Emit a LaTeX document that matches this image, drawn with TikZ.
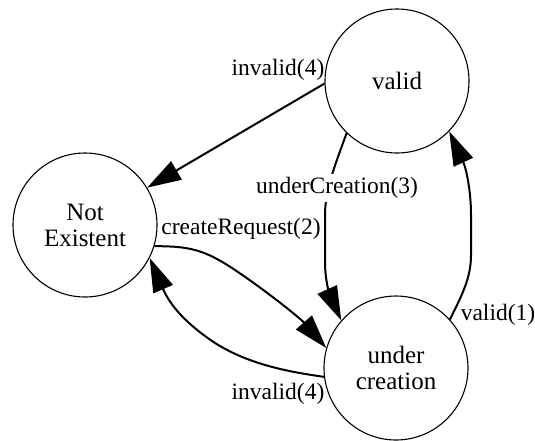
\documentclass[tikz,border=0pt]{standalone}
\usepackage{fontspec}
\setmainfont{Liberation Serif}
\usetikzlibrary{arrows.meta}
\tikzset{
  state/.style={circle, draw, line width=1.1pt, minimum size=144pt, inner sep=0pt, align=center, font=\fontsize{25}{26}\selectfont},
  edge/.style={line width=2pt, -{Triangle[length=34pt,width=21pt]}},
  elabel/.style={inner sep=1pt, font=\fontsize{23.5}{25}\selectfont},
}
\begin{document}
\begin{tikzpicture}[x=1pt,y=-1pt]
\useasboundingbox (0,0) rectangle (535,440);
\node[state] (V) at (397,81) {valid};
\node[state] (NE) at (85,225) {Not\\Existent};
\node[state] (UC) at (396,368) {under\\creation};

% invalid(4) : valid -> Not Existent
\draw[edge] (V.182) -- (NE.31);
% underCreation(3) : valid -> under creation
\draw[edge] (V.226) .. controls (335,165) and (325,190) .. (325,215) -- (325,262) .. controls (325,285) and (332,300) .. (UC.139);
% valid(1) : under creation -> valid
\draw[edge] (UC.42) .. controls (462,295) and (471,278) .. (471,255) -- (471,215) .. controls (471,190) and (466,168) .. (V.-44);
% createRequest(2) : Not Existent -> under creation
\draw[edge] (NE.-17) .. controls (190,246) and (205,250) .. (235,270) .. controls (265,290) and (300,318) .. (UC.164);
% invalid(4) : under creation -> Not Existent
\draw[edge] (UC.187) .. controls (290,372) and (250,365) .. (215,343) .. controls (185,323) and (170,305) .. (NE.-27);

\node[elabel] (l1) at (278,70) {invalid(4)};
\node[elabel, fill=white, inner sep=3pt] (l2) at (337,188) {underCreation(3)};
\node[elabel] (l3) at (241,229) {createRequest(2)};
\node[elabel] (l4) at (498,315) {valid(1)};
\node[elabel] (l5) at (278,394) {invalid(4)};
\end{tikzpicture}
\end{document}
